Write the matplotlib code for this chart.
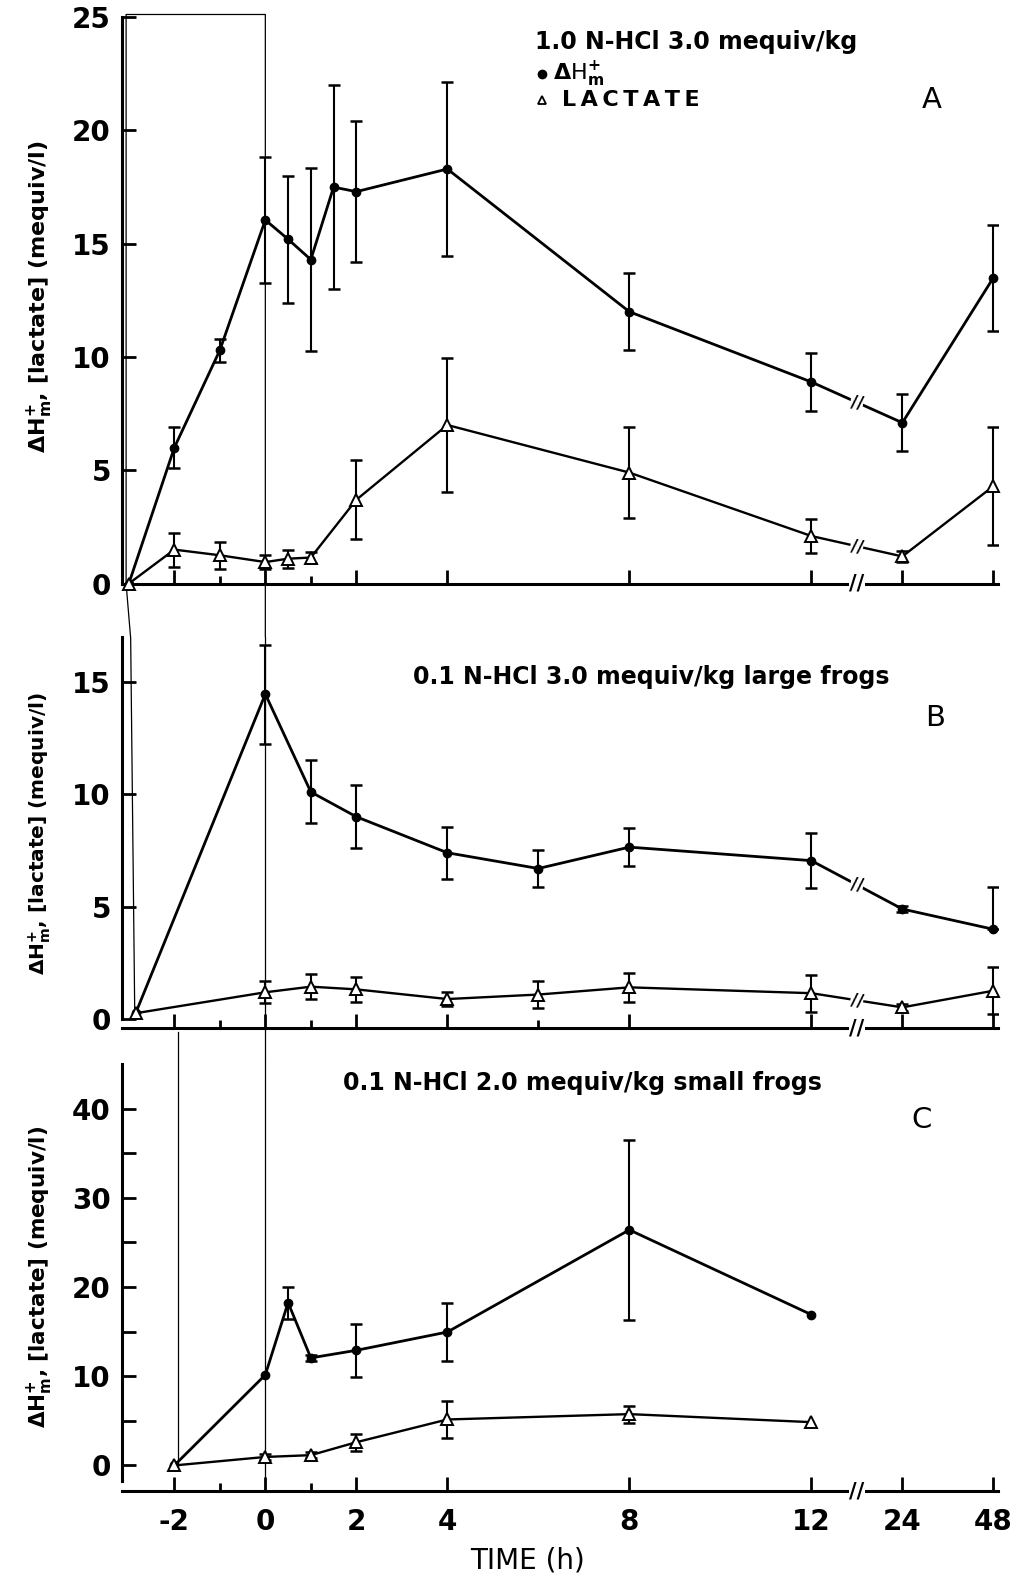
import numpy as np
import matplotlib
matplotlib.use("Agg")
import matplotlib.pyplot as plt
import matplotlib.transforms as mtransforms

plt.rcParams["font.family"] = ["DejaVu Sans"]
plt.rcParams["mathtext.fontset"] = "custom"
plt.rcParams["mathtext.rm"] = "DejaVu Sans:bold"
plt.rcParams["mathtext.it"] = "DejaVu Sans:bold"
plt.rcParams["mathtext.bf"] = "DejaVu Sans:bold"

# ---- data, time in h ----
# panel A: 1.0 N-HCl 3.0 mequiv/kg
time_a = [-3, -2, -1, 0, 0.5, 1, 1.5, 2, 4, 8, 12, 24, 48]
h_a = [0, 6.0, 10.3, 16.05, 15.2, 14.3, 17.5, 17.3, 18.3, 12.0, 8.9, 7.1, 13.5]
h_a_err = [0, 0.9, 0.5, 2.8, 2.8, 4.05, 4.5, 3.1, 3.85, 1.7, 1.3, 1.25, 2.35]
time_a_lac = [-3, -2, -1, 0, 0.5, 1, 2, 4, 8, 12, 24, 48]
lac_a = [0, 1.5, 1.25, 0.95, 1.1, 1.15, 3.7, 7.0, 4.9, 2.1, 1.2, 4.3]
lac_a_err = [0, 0.75, 0.6, 0.3, 0.4, 0.25, 1.75, 2.95, 2.0, 0.75, 0.25, 2.6]

# panel B: 0.1 N-HCl 3.0 mequiv/kg large frogs
time_b = [-2.85, 0, 1, 2, 4, 6, 8, 12, 24, 48]
h_b = [0.27, 14.45, 10.1, 9.0, 7.4, 6.7, 7.65, 7.05, 4.9, 4.0]
h_b_err_lo = [0, 2.2, 1.4, 1.4, 1.15, 0.82, 0.83, 1.23, 0.15, 0]
h_b_err_hi = [0, 2.2, 1.4, 1.4, 1.15, 0.82, 0.83, 1.23, 0.15, 1.9]
lac_b = [0.27, 1.2, 1.45, 1.33, 0.9, 1.1, 1.42, 1.16, 0.53, 1.27]
lac_b_err = [0, 0.48, 0.55, 0.55, 0.3, 0.6, 0.65, 0.83, 0.15, 1.04]

# panel C: 0.1 N-HCl 2.0 mequiv/kg small frogs
time_c = [-2, 0, 0.5, 1, 2, 4, 8, 12]
h_c = [0, 10.15, 18.25, 12.05, 12.9, 14.95, 26.4, 16.9]
h_c_err = [0, 0, 1.8, 0.3, 2.95, 3.2, 10.1, 0]
time_c_lac = [-2, 0, 1, 2, 4, 8, 12]
lac_c = [0, 0.95, 1.15, 2.6, 5.15, 5.75, 4.85]
lac_c_err = [0, 0.3, 0.3, 0.95, 2.1, 0.95, 0]

tick_major = [-2, 0, 2, 4, 8, 12, 24, 48]
tick_minor = [-1, 1]
tick_labels = ["-2", "0", "2", "4", "8", "12", "24", "48"]

titles = ["1.0 N-HCl 3.0 mequiv/kg",
          "0.1 N-HCl 3.0 mequiv/kg large frogs",
          "0.1 N-HCl 2.0 mequiv/kg small frogs"]
ylabel = r"$\Delta$H$^{+}_{m}$, [lactate] (mequiv/l)"


def pos(t):
    """broken time axis: linear up to 12 h, then 24 and 48 squeezed"""
    t = np.asarray(t, float)
    out = t.copy()
    out[t == 24] = 14.0
    out[t == 48] = 16.0
    return out


W, H = 1014, 1576
fig = plt.figure(figsize=(W / 100, H / 100), dpi=100)


def fx(px):
    return px / W


def fy(py):
    return 1 - py / H


left, width = fx(122), (997.9 - 122) / W
axA = fig.add_axes([left, fy(583.6), width, (583.6 - 17.2) / H])
axB = fig.add_axes([left, fy(1028.3), width, (1028.3 - 636.7) / H])
axC = fig.add_axes([left, fy(1491.3), width, (1491.3 - 1063.9) / H])

LW_SP = 2.2


def style(ax, ylim, yticks, minor_x, ybound=None):
    ax.set_xlim(-3.15, 16.1)
    ax.set_ylim(*ylim)
    for s in ("top", "right"):
        ax.spines[s].set_visible(False)
    ax.spines["left"].set_linewidth(LW_SP)
    ax.spines["bottom"].set_linewidth(LW_SP)
    if ybound:
        ax.spines["left"].set_bounds(*ybound)
    ax.set_yticks(yticks)
    ax.set_xticks(pos(tick_major))
    ax.set_xticks(pos(minor_x), minor=True)
    ax.tick_params(axis="both", which="major", direction="in", length=10,
                   width=2, labelsize=20, pad=8)
    ax.tick_params(axis="x", which="minor", direction="in", length=6, width=2)
    for lab in ax.get_yticklabels():
        lab.set_fontweight("bold")
    # axis break on the time axis
    tr = mtransforms.blended_transform_factory(ax.transData, ax.transAxes)
    ax.text(13.0, 0.0, "//", transform=tr, ha="center", va="center",
            fontsize=15, fontweight="bold",
            bbox=dict(facecolor="white", edgecolor="none", pad=0.3))


def series(ax, t, y, lo, hi, filled, lw):
    x = pos(t)
    y = np.asarray(y, float)
    lo = np.asarray(lo, float)
    hi = np.asarray(hi, float)
    ax.plot(x, y, color="black", lw=lw, zorder=3, clip_on=False)
    m = (lo > 0) | (hi > 0)
    ax.errorbar(x[m], y[m], yerr=[lo[m], hi[m]], fmt="none", ecolor="black",
                elinewidth=1.5, capsize=4.5, capthick=1.8, zorder=2)
    if filled:
        ax.plot(x, y, "o", ms=6, color="black", zorder=4, clip_on=False)
    else:
        ax.plot(x, y, "^", ms=8, mfc="white", mec="black", mew=1.4,
                zorder=4, clip_on=False)


def line_break(ax, t, y):
    # "//" mark on the segment between 12 h and 24 h
    i = list(t).index(12)
    ax.text(13.0, (y[i] + y[i + 1]) / 2, "//", ha="center", va="center",
            fontsize=12, fontweight="bold", rotation=-10, zorder=5,
            bbox=dict(facecolor="white", edgecolor="none", pad=0.2))


# ---- panel A ----
style(axA, (0, 25), [0, 5, 10, 15, 20, 25], tick_minor)
series(axA, time_a, h_a, h_a_err, h_a_err, True, 2.0)
series(axA, time_a_lac, lac_a, lac_a_err, lac_a_err, False, 1.7)
line_break(axA, time_a, h_a)
line_break(axA, time_a_lac, lac_a)
axA.plot([-2.96, -3.06, -3.06, 0, 0], [-2.4, 0, 25.12, 25.12, -2.4],
         color="black", lw=0.9, clip_on=False, zorder=1)

# ---- panel B ----
style(axB, (-0.4, 17), [0, 5, 10, 15], tick_minor + [6], ybound=(0, 17))
series(axB, time_b, h_b, h_b_err_lo, h_b_err_hi, True, 2.0)
series(axB, time_b, lac_b, lac_b_err, lac_b_err, False, 1.7)
line_break(axB, time_b, h_b)
line_break(axB, time_b, lac_b)
axB.plot([-2.96, -2.87], [17, 0.3], color="black", lw=0.9, zorder=1)
axB.plot([0, 0], [17, -2.0], color="black", lw=0.9, clip_on=False, zorder=1)

# ---- panel C ----
style(axC, (-2.9, 45), [0, 10, 20, 30, 40], tick_minor, ybound=(-1.8, 45))
axC.set_yticks([5, 15, 25, 35], minor=True)
axC.tick_params(axis="y", which="minor", direction="in", length=10, width=2)
series(axC, time_c, h_c, h_c_err, h_c_err, True, 2.0)
series(axC, time_c_lac, lac_c, lac_c_err, lac_c_err, False, 1.7)
axC.plot([-1.93, -1.93], [48.6, 0], color="black", lw=0.9, clip_on=False, zorder=1)
axC.plot([0, 0], [45, -2.9], color="black", lw=0.9, clip_on=False, zorder=1)
axC.set_xticklabels(tick_labels, fontsize=20, fontweight="bold")
axC.tick_params(axis="x", which="major", pad=12)
for ax in (axA, axB):
    ax.set_xticklabels([])

# ---- texts ----
fig.text(fx(535), fy(42), titles[0], fontsize=17, fontweight="bold",
         ha="left", va="center")
fig.text(fx(413), fy(677), titles[1], fontsize=17, fontweight="bold",
         ha="left", va="center")
fig.text(fx(343), fy(1083), titles[2], fontsize=17, fontweight="bold",
         ha="left", va="center")
fig.text(fx(932), fy(100), "A", fontsize=21, ha="center", va="center")
fig.text(fx(935), fy(718), "B", fontsize=21, ha="center", va="center")
fig.text(fx(922), fy(1120), "C", fontsize=21, ha="center", va="center")

# legend of panel A
fig.lines.append(plt.Line2D([fx(542)], [fy(74)], marker="o", ms=6,
                            color="black", transform=fig.transFigure))
fig.lines.append(plt.Line2D([fx(542)], [fy(100)], marker="^", ms=6,
                            mfc="white", mec="black", mew=1.3,
                            transform=fig.transFigure))
fig.text(fx(553), fy(74), r"$\Delta$H$^{+}_{m}$", fontsize=16,
         ha="left", va="center")
fig.text(fx(562), fy(100), "\u2009".join("LACTATE"), fontsize=16,
         fontweight="bold", ha="left", va="center")

for cy, fs in ((297, 16), (833, 14.5), (1277, 15.5)):
    fig.text(fx(40), fy(cy), ylabel, fontsize=fs, fontweight="bold",
             rotation=90, ha="center", va="center")

fig.text(fx(528), fy(1560), "TIME (h)", fontsize=20, ha="center", va="center")

fig.savefig("out.png", dpi=100)
